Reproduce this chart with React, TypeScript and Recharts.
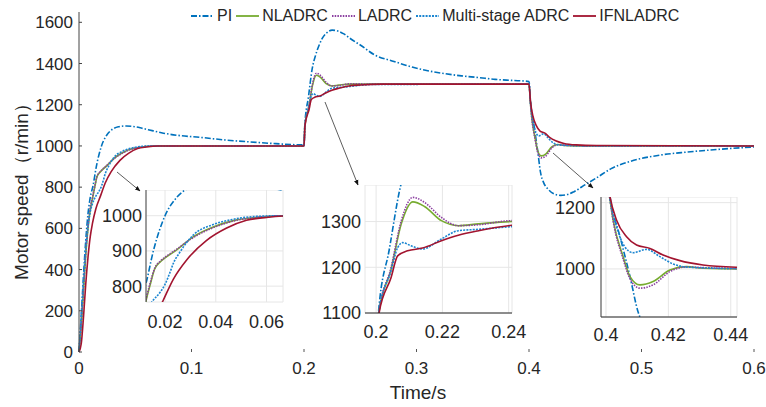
import { LineChart, Line, XAxis, YAxis, CartesianGrid } from 'recharts';

const FONT = "'Liberation Sans', Arial, sans-serif";
const INK = '#262626';

// time (s) / speed (r/min)
const piTime = [0, 0.002, 0.004, 0.006, 0.008, 0.01, 0.0125, 0.0154, 0.02, 0.0246, 0.029, 0.035, 0.042, 0.05, 0.056, 0.066, 0.075, 0.09, 0.107, 0.13, 0.151, 0.175, 0.2, 0.2007, 0.204, 0.2073, 0.2103, 0.2135, 0.2162, 0.22, 0.225, 0.23, 0.235, 0.243, 0.25, 0.263, 0.28, 0.296, 0.31, 0.325, 0.34, 0.355, 0.37, 0.385, 0.4, 0.4013, 0.4045, 0.4077, 0.4103, 0.413, 0.417, 0.422, 0.428, 0.434, 0.44, 0.45, 0.46, 0.473, 0.49, 0.517, 0.54, 0.561, 0.58, 0.6];
const piSpeed = [0, 180, 370, 540, 670, 750, 808, 900, 1000, 1052, 1078, 1093, 1097, 1093, 1086, 1073, 1062, 1050, 1042, 1029, 1020, 1011, 1005, 1100, 1240, 1375, 1440, 1490, 1522, 1548, 1562, 1558, 1545, 1514, 1490, 1441, 1410, 1383, 1365, 1351, 1340, 1332, 1323, 1318, 1313, 1217, 1097, 977, 870, 822, 790, 768, 760, 764, 778, 812, 845, 890, 925, 956, 970, 980, 988, 995];

const nlTime = [0, 0.002, 0.004, 0.006, 0.008, 0.01, 0.012, 0.014, 0.016, 0.018, 0.02, 0.0246, 0.0311, 0.039, 0.047, 0.056, 0.066, 0.09, 0.2, 0.2008, 0.2045, 0.2076, 0.2111, 0.2146, 0.2197, 0.2248, 0.2309, 0.241, 0.26, 0.4, 0.4012, 0.4023, 0.4055, 0.4077, 0.4109, 0.4151, 0.4205, 0.4258, 0.4311, 0.442, 0.46, 0.6];
const nlSpeed = [0, 130, 300, 470, 600, 690, 745, 800, 850, 868, 880, 903, 940, 968, 986, 995, 1000, 1000, 1000, 1100, 1195, 1295, 1343, 1333, 1302, 1291, 1295, 1300, 1300, 1300, 1215, 1147, 1037, 977, 952, 962, 997, 1007, 1002, 1000, 1000, 1000];

const laTime = [0, 0.002, 0.004, 0.006, 0.008, 0.01, 0.012, 0.014, 0.016, 0.018, 0.02, 0.0246, 0.0311, 0.039, 0.047, 0.056, 0.066, 0.09, 0.2, 0.2008, 0.2045, 0.2076, 0.2111, 0.2146, 0.2197, 0.2248, 0.2309, 0.241, 0.26, 0.4, 0.4012, 0.4023, 0.4055, 0.4077, 0.4109, 0.4151, 0.4205, 0.4258, 0.4311, 0.442, 0.46, 0.6];
const laSpeed = [0, 140, 310, 480, 610, 700, 750, 805, 852, 870, 882, 905, 938, 966, 985, 995, 1000, 1000, 1000, 1100, 1199, 1302, 1353, 1342, 1309, 1291, 1293, 1302, 1300, 1300, 1215, 1145, 1030, 970, 942, 952, 992, 1006, 1004, 1001, 1000, 1000];

const msTime = [0, 0.002, 0.004, 0.006, 0.008, 0.01, 0.012, 0.015, 0.018, 0.02, 0.022, 0.0233, 0.026, 0.0311, 0.039, 0.047, 0.056, 0.066, 0.09, 0.2, 0.2008, 0.2045, 0.2065, 0.208, 0.2105, 0.214, 0.2197, 0.2248, 0.2309, 0.241, 0.26, 0.4, 0.4012, 0.4034, 0.406, 0.4087, 0.413, 0.4173, 0.4215, 0.4269, 0.442, 0.46, 0.6];
const msSpeed = [0, 160, 340, 500, 610, 680, 720, 757, 782, 805, 840, 865, 898, 945, 975, 990, 998, 1000, 1000, 1000, 1100, 1192, 1243, 1254, 1247, 1240, 1262, 1280, 1283, 1289, 1298, 1300, 1215, 1127, 1067, 1049, 1059, 1037, 1015, 1005, 1001, 1000, 1000];

const ifTime = [0, 0.002, 0.004, 0.006, 0.008, 0.01, 0.012, 0.015, 0.0193, 0.0233, 0.0286, 0.0364, 0.0443, 0.0521, 0.06, 0.07, 0.09, 0.2, 0.2009, 0.2045, 0.2065, 0.2095, 0.214, 0.2197, 0.2248, 0.2309, 0.241, 0.25, 0.27, 0.4, 0.4013, 0.4034, 0.4066, 0.4098, 0.4141, 0.4183, 0.4237, 0.4311, 0.442, 0.46, 0.6];
const ifSpeed = [0, 40, 170, 330, 460, 560, 625, 695, 760, 820, 875, 930, 965, 987, 995, 1000, 1000, 1000, 1100, 1177, 1225, 1236, 1242, 1258, 1270, 1280, 1292, 1296, 1300, 1300, 1217, 1147, 1097, 1072, 1062, 1042, 1025, 1012, 1005, 1002, 1000];

const mainTimeTicks = [0, 0.1, 0.2, 0.3, 0.4, 0.5, 0.6];
const mainSpeedTicks = [0, 200, 400, 600, 800, 1000, 1200, 1400, 1600];

const zip = (t: number[], v: number[]) => t.map((x, i) => ({ t: x, v: v[i] }));

const series = [
  { name: 'PI', data: zip(piTime, piSpeed), color: '#0072BD', dash: '6 2 1.5 2' },
  { name: 'NLADRC', data: zip(nlTime, nlSpeed), color: '#77AC30', dash: undefined },
  { name: 'LADRC', data: zip(laTime, laSpeed), color: '#8B3FA0', dash: '1.5 1.2' },
  { name: 'Multi-stage ADRC', data: zip(msTime, msSpeed), color: '#1C86D1', dash: '2 1.2' },
  { name: 'IFNLADRC', data: zip(ifTime, ifSpeed), color: '#A2142F', dash: undefined },
];

const lines = () =>
  series.map((s) => (
    <Line
      key={s.name}
      data={s.data}
      dataKey="v"
      type="monotone"
      stroke={s.color}
      strokeWidth={1.6}
      strokeDasharray={s.dash}
      dot={false}
      activeDot={false}
      isAnimationActive={false}
    />
  ));

interface InsetProps {
  left: number; top: number; w: number; h: number;
  xDomain: [number, number]; yDomain: [number, number];
  xTicks: number[]; yTicks: number[];
  leftLine: boolean; bottomLine: boolean;
  yGap: number; xGap: number;
}

function Inset(p: InsetProps) {
  const yw = 50;
  const xh = 34;
  const pad = 26;
  return (
    <div style={{ position: 'absolute', left: p.left - yw, top: p.top }}>
      <LineChart width={yw + p.w + pad} height={p.h + xh} margin={{ top: 0, right: pad, bottom: 0, left: 0 }}>
        <CartesianGrid fill="#fff" stroke="#e6e6e6" />
        <XAxis
          type="number"
          dataKey="t"
          domain={p.xDomain}
          ticks={p.xTicks}
          allowDataOverflow
          height={xh}
          axisLine={p.bottomLine ? { stroke: INK } : false}
          tickLine={false}
          tickSize={0}
          tickMargin={p.xGap}
          tick={{ fill: INK, fontSize: 18, fontFamily: FONT }}
        />
        <YAxis
          type="number"
          domain={p.yDomain}
          ticks={p.yTicks}
          allowDataOverflow
          width={yw}
          axisLine={p.leftLine ? { stroke: '#444' } : false}
          tickLine={false}
          tickSize={0}
          tickMargin={p.yGap}
          tick={{ fill: INK, fontSize: 18, fontFamily: FONT }}
        />
        {lines()}
      </LineChart>
    </div>
  );
}

function LegendRow() {
  return (
    <div style={{ position: 'absolute', left: 191, top: 6, display: 'flex', alignItems: 'center', fontFamily: FONT, fontSize: 16, color: INK, lineHeight: '19px', whiteSpace: 'nowrap' }}>
      {series.map((s) => (
        <div key={s.name} style={{ display: 'flex', alignItems: 'center', marginRight: 4 }}>
          <svg width={23} height={10} style={{ marginRight: 3 }}>
            <line x1={0} y1={5} x2={23} y2={5} stroke={s.color} strokeWidth={1.8} strokeDasharray={s.dash} />
          </svg>
          <span>{s.name}</span>
        </div>
      ))}
    </div>
  );
}

function Arrows() {
  const arrows = [
    [117, 172, 140, 191],
    [325, 102, 358, 185],
    [553, 153, 593, 188],
  ];
  return (
    <svg width={766} height={407} style={{ position: 'absolute', left: 0, top: 0, pointerEvents: 'none' }}>
      <defs>
        <marker id="head" viewBox="0 0 10 10" refX="9" refY="5" markerWidth="7" markerHeight="7" orient="auto">
          <path d="M0,1 L10,5 L0,9 z" fill="#111" />
        </marker>
      </defs>
      {arrows.map((a, i) => (
        <line key={i} x1={a[0]} y1={a[1]} x2={a[2]} y2={a[3]} stroke="#333" strokeWidth={0.8} markerEnd="url(#head)" />
      ))}
    </svg>
  );
}

export default function App() {
  return (
    <div style={{ position: 'absolute', left: 0, top: 0, width: 766, height: 407, background: '#fff', overflow: 'hidden' }}>
      <LineChart width={766} height={407} margin={{ top: 12, right: 12, bottom: 0, left: 0 }}>
        <XAxis
          type="number"
          dataKey="t"
          domain={[0, 0.6]}
          ticks={mainTimeTicks}
          height={55}
          axisLine={false}
          tickLine={{ stroke: '#555' }}
          tickSize={-3}
          tickMargin={13}
          tick={{ fill: INK, fontSize: 17, fontFamily: FONT }}
          label={{
            content: () => (
              <text x={418} y={399} textAnchor="middle" fill={INK} fontSize={19} fontFamily={FONT}>Time/s</text>
            ),
          }}
        />
        <YAxis
          type="number"
          domain={[0, 1650]}
          ticks={mainSpeedTicks}
          width={79}
          axisLine={{ stroke: '#444' }}
          tickLine={{ stroke: '#444' }}
          tickSize={-3}
          tickMargin={9}
          tick={{ fill: INK, fontSize: 17, fontFamily: FONT }}
          label={{
            content: () => (
              <text x={28} y={187} transform="rotate(-90 28 187)" textAnchor="middle" fill={INK} fontSize={19} fontFamily={FONT}>Motor speed（r/min）</text>
            ),
          }}
        />
        {lines()}
      </LineChart>
      <Inset left={146} top={190} w={137} h={112} xDomain={[0.0125, 0.0665]} yDomain={[755, 1073]}
        xTicks={[0.02, 0.04, 0.06]} yTicks={[800, 900, 1000]} leftLine bottomLine={false} yGap={4} xGap={13} />
      <Inset left={365} top={185} w={147} h={128} xDomain={[0.19665, 0.241]} yDomain={[1100, 1380]}
        xTicks={[0.2, 0.22, 0.24]} yTicks={[1100, 1200, 1300]} leftLine={false} bottomLine yGap={4} xGap={12} />
      <Inset left={601} top={197} w={136} h={120} xDomain={[0.3984, 0.442]} yDomain={[855, 1217]}
        xTicks={[0.4, 0.42, 0.44]} yTicks={[1000, 1200]} leftLine bottomLine yGap={6} xGap={11} />
      <LegendRow />
      <Arrows />
    </div>
  );
}
